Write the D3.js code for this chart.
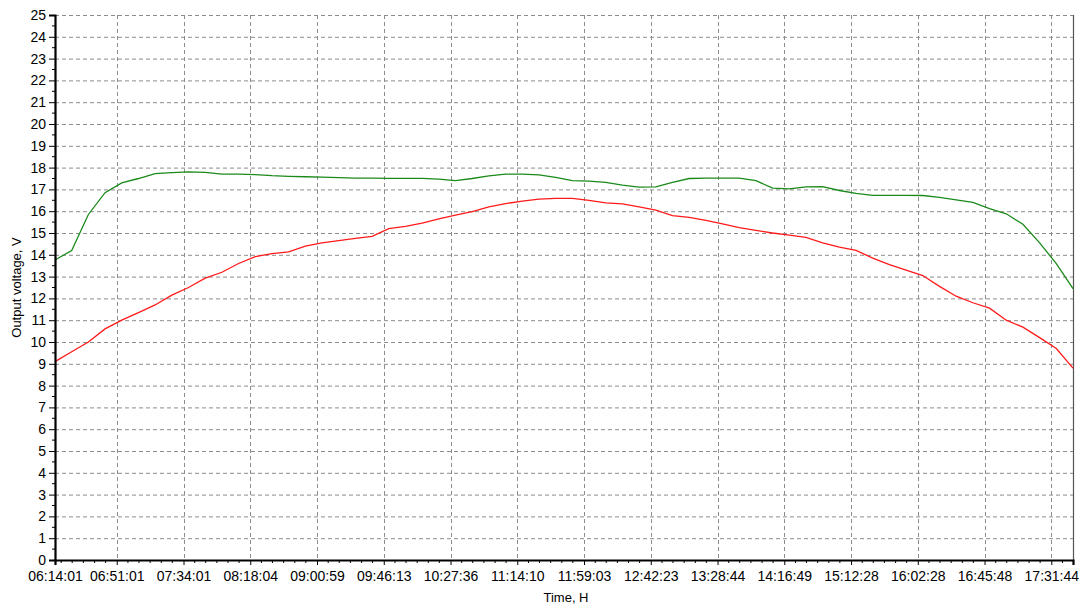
<!DOCTYPE html>
<html><head><meta charset="utf-8">
<script src="https://cdn.jsdelivr.net/npm/d3@7/dist/d3.min.js"></script>
<style>body{margin:0;background:#fff}svg{display:block}text{font-family:"Liberation Sans",Arial,sans-serif}</style>
</head><body>
<svg id="c" width="1080" height="605"></svg>
<script>
// sample index of each reading
const sampleIndex = [0,10,20,30,40,50,60,70,80,90,100,110,120,130,140,150,160,170,180,190,200,210,220,230,240,250,260,270,280,290,300,310,320,330,340,350,360,370,380,390,400,410,420,430,440,450,460,470,480,490,500,510,520,530,540,550,560,570,580,590,600,610];
const greenSeries = [13.76,14.2,15.85,16.85,17.3,17.5,17.72,17.77,17.8,17.78,17.7,17.7,17.68,17.63,17.6,17.58,17.56,17.54,17.52,17.52,17.51,17.51,17.51,17.47,17.4,17.5,17.62,17.7,17.7,17.67,17.55,17.4,17.38,17.32,17.2,17.1,17.12,17.32,17.5,17.52,17.52,17.52,17.4,17.06,17.02,17.12,17.13,16.95,16.82,16.73,16.73,16.73,16.72,16.63,16.52,16.4,16.12,15.88,15.4,14.55,13.6,12.45];
const redSeries = [9.1,9.55,10.0,10.6,11.0,11.35,11.7,12.15,12.5,12.93,13.2,13.6,13.92,14.05,14.13,14.4,14.55,14.65,14.75,14.85,15.2,15.3,15.45,15.65,15.82,15.98,16.2,16.35,16.46,16.55,16.59,16.59,16.5,16.38,16.34,16.2,16.05,15.8,15.72,15.58,15.42,15.25,15.12,15.0,14.9,14.8,14.55,14.35,14.2,13.85,13.55,13.3,13.05,12.55,12.1,11.8,11.55,11.0,10.68,10.2,9.7,8.8];
const xTickIndex = [0,37,77,117,157,197,237,277,317,357,397,437,477,517,557,597];
const xTickLabels = ["06:14:01","06:51:01","07:34:01","08:18:04","09:00:59","09:46:13","10:27:36","11:14:10","11:59:03","12:42:23","13:28:44","14:16:49","15:12:28","16:02:28","16:45:48","17:31:44"];
const yTicks = d3.range(0,26,1);

const L=55, R=1073, T=15, B=560;
const svg = d3.select("#c");
const x = d3.scaleLinear().domain([0,610]).range([L,R]);
const y = d3.scaleLinear().domain([0,25]).range([B,T]);

// grid
const g = svg.append("g");
g.selectAll("line.h").data(yTicks.filter(d=>d>0)).join("line")
  .attr("x1",L).attr("x2",R).attr("y1",d=>y(d)+0.5).attr("y2",d=>y(d)+0.5)
  .attr("stroke","#8c8c8c").attr("stroke-dasharray","4,3");
g.selectAll("line.v").data(xTickIndex.slice(1)).join("line")
  .attr("y1",T).attr("y2",B).attr("x1",d=>Math.round(x(d))+0.5).attr("x2",d=>Math.round(x(d))+0.5)
  .attr("stroke","#8c8c8c").attr("stroke-dasharray","4,3");
// right border
svg.append("line").attr("x1",R+0.5).attr("x2",R+0.5).attr("y1",T).attr("y2",B).attr("stroke","#555").attr("stroke-width",1.2);

// lines
const line = d3.line().x((d,i)=>x(sampleIndex[i])).y(d=>y(d));
svg.append("path").datum(greenSeries).attr("d",line).attr("fill","none").attr("stroke","#1a8a1a").attr("stroke-width",1.3);
svg.append("path").datum(redSeries).attr("d",line).attr("fill","none").attr("stroke","#ff1a1a").attr("stroke-width",1.3);

// y axis
const ya = svg.append("g").attr("transform",`translate(${L},0)`)
  .call(d3.axisLeft(y).tickValues(yTicks).tickSize(6).tickPadding(3));
ya.select(".domain").attr("stroke","#000").attr("stroke-width",2.2);
ya.selectAll("text").attr("font-size",14).attr("fill","#000").style("font-family","Liberation Sans, Arial");
// y minor ticks
svg.append("g").selectAll("line").data(d3.range(0,25,0.5).filter(d=>d%1!==0)).join("line")
  .attr("x1",L-3).attr("x2",L).attr("y1",d=>y(d)).attr("y2",d=>y(d)).attr("stroke","#000");

// x axis
const xa = svg.append("g").attr("transform",`translate(0,${B})`)
  .call(d3.axisBottom(x).tickValues(xTickIndex).tickFormat((d,i)=>xTickLabels[i]).tickSize(5).tickPadding(6));
xa.select(".domain").attr("stroke","#000").attr("stroke-width",2.2);
xa.selectAll("text").attr("font-size",14).attr("fill","#000").style("font-family","Liberation Sans, Arial");
// x minor ticks
const minor=[];
for(let k=1;k<xTickIndex.length;k++){for(let j=-5;j<6;j++){const v=xTickIndex[k]+j*40/6; if(v>0&&v<610&&j!==0&&(v>xTickIndex[k-1])) minor.push(v);}}
svg.append("g").selectAll("line").data(Array.from(new Set(minor.map(v=>Math.round(v*10)/10)))).join("line")
  .attr("y1",B).attr("y2",B+3).attr("x1",d=>x(d)).attr("x2",d=>x(d)).attr("stroke","#000");

// axis titles
svg.append("text").attr("x",(L+R)/2+2).attr("y",602).attr("text-anchor","middle").attr("font-size",13).text("Time, H");
svg.append("text").attr("transform",`translate(21,${(T+B)/2}) rotate(-90)`).attr("text-anchor","middle").attr("font-size",13).text("Output voltage, V");
</script>
</body></html>
